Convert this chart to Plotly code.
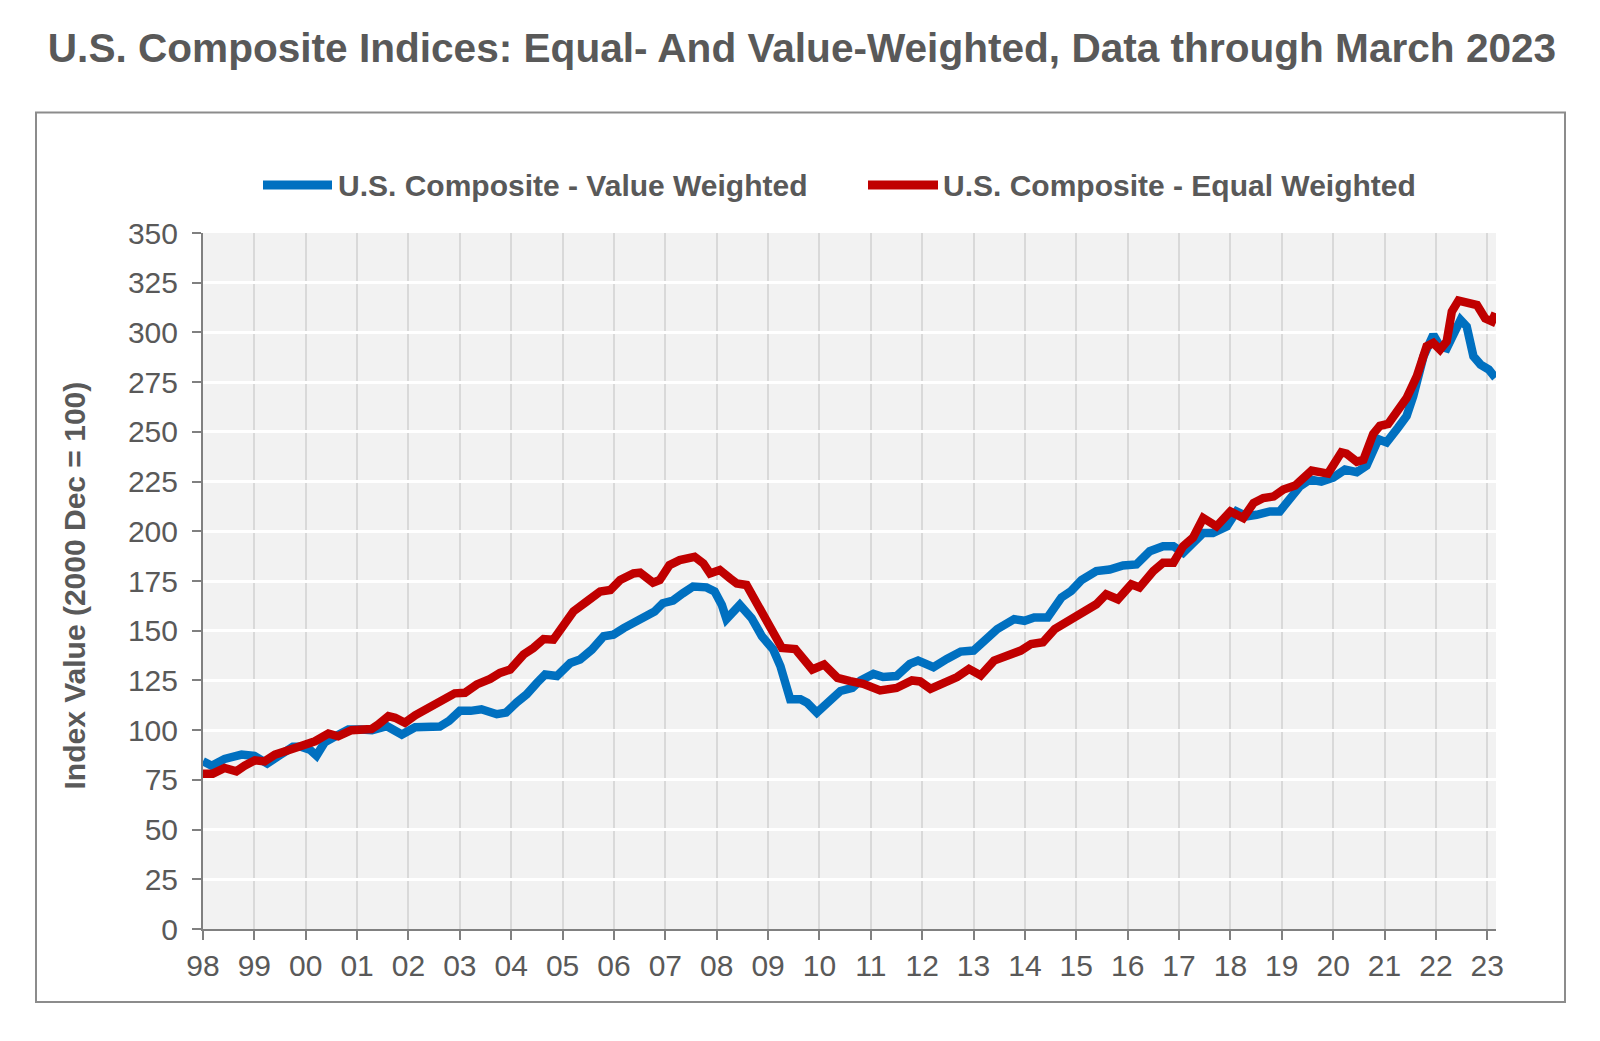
import plotly.graph_objects as go

# ---- data (decimal years, index values) ----
value_years = [1998.00, 1998.17, 1998.42, 1998.75, 1999.00, 1999.25, 1999.50, 1999.75, 1999.92,
               2000.08, 2000.21, 2000.37, 2000.58, 2000.83, 2001.08, 2001.29, 2001.58, 2001.87,
               2002.13, 2002.33, 2002.61, 2002.79, 2003.00, 2003.21, 2003.42, 2003.72, 2003.90,
               2004.10, 2004.30, 2004.50, 2004.66, 2004.89, 2005.15, 2005.34, 2005.57, 2005.80,
               2005.99, 2006.19, 2006.51, 2006.79, 2006.95, 2007.15, 2007.34, 2007.54, 2007.80,
               2007.96, 2008.10, 2008.19, 2008.45, 2008.68, 2008.88, 2009.10, 2009.24, 2009.43,
               2009.63, 2009.76, 2009.95, 2010.22, 2010.41, 2010.64, 2010.80, 2011.05, 2011.24,
               2011.50, 2011.76, 2011.92, 2012.22, 2012.48, 2012.75, 2013.00, 2013.20, 2013.46,
               2013.79, 2013.99, 2014.18, 2014.44, 2014.71, 2014.90, 2015.10, 2015.39, 2015.65,
               2015.91, 2016.17, 2016.43, 2016.69, 2016.89, 2017.08, 2017.27, 2017.47, 2017.66,
               2017.93, 2018.12, 2018.32, 2018.51, 2018.77, 2018.96, 2019.16, 2019.35, 2019.55,
               2019.77, 2020.00, 2020.23, 2020.46, 2020.65, 2020.88, 2021.04, 2021.26, 2021.43,
               2021.56, 2021.76, 2021.95, 2022.08, 2022.21, 2022.48, 2022.60, 2022.73, 2022.87,
               2023.03, 2023.16]
value_index = [84.3, 82.1, 85.5, 87.7, 87.0, 83.2, 87.5, 91.6, 91.6,
               90.2, 87.2, 93.9, 96.9, 100.3, 100.3, 100.0, 102.0, 97.8,
               101.5, 101.8, 101.8, 104.7, 109.7, 109.7, 110.5, 108.0, 108.8,
               113.8, 118.0, 123.8, 128.0, 127.2, 133.8, 135.5, 140.5, 147.2,
               148.0, 151.3, 156.3, 159.7, 163.8, 165.2, 168.8, 172.2, 171.8,
               169.7, 163.0, 155.8, 163.0, 156.3, 147.2, 140.5, 132.2, 115.5,
               115.5, 113.8, 108.8, 115.5, 119.7, 121.3, 125.0, 128.3, 126.7,
               127.2, 133.3, 135.0, 131.7, 135.8, 139.5, 140.0, 144.2, 150.8,
               155.8, 155.0, 156.7, 156.7, 166.7, 170.0, 175.5, 180.0, 180.8,
               182.8, 183.3, 190.0, 192.5, 192.5, 189.2, 194.2, 199.2, 199.2,
               202.5, 210.0, 207.5, 208.3, 210.0, 210.0, 216.5, 222.5, 226.0,
               225.0, 227.0, 231.0, 229.7, 233.0, 246.3, 244.7, 252.0, 258.0,
               268.0, 288.0, 298.8, 293.0, 292.0, 306.3, 303.0, 288.0, 283.8,
               281.3, 277.2]

equal_years = [1998.00, 1998.19, 1998.42, 1998.65, 1998.81, 1999.01, 1999.20, 1999.40, 1999.66,
               1999.92, 2000.18, 2000.44, 2000.63, 2000.89, 2001.09, 2001.28, 2001.41, 2001.61,
               2001.74, 2001.93, 2002.13, 2002.33, 2002.48, 2002.68, 2002.90, 2003.10, 2003.33,
               2003.59, 2003.78, 2003.98, 2004.24, 2004.43, 2004.63, 2004.82, 2005.02, 2005.21,
               2005.47, 2005.73, 2005.93, 2006.12, 2006.38, 2006.51, 2006.76, 2006.89, 2007.08,
               2007.28, 2007.57, 2007.74, 2007.87, 2008.06, 2008.26, 2008.39, 2008.58, 2008.78,
               2008.91, 2009.10, 2009.27, 2009.53, 2009.69, 2009.86, 2010.09, 2010.35, 2010.60,
               2010.85, 2011.18, 2011.50, 2011.80, 2011.96, 2012.16, 2012.42, 2012.68, 2012.91,
               2013.14, 2013.40, 2013.66, 2013.92, 2014.12, 2014.35, 2014.58, 2014.84, 2015.10,
               2015.39, 2015.58, 2015.81, 2016.07, 2016.23, 2016.50, 2016.69, 2016.89, 2017.08,
               2017.27, 2017.47, 2017.73, 2018.00, 2018.25, 2018.45, 2018.64, 2018.84, 2019.03,
               2019.26, 2019.58, 2019.77, 2019.90, 2020.16, 2020.26, 2020.46, 2020.59, 2020.78,
               2020.91, 2021.07, 2021.24, 2021.43, 2021.63, 2021.82, 2021.95, 2022.08, 2022.21,
               2022.31, 2022.44, 2022.70, 2022.80, 2022.96, 2023.09, 2023.16]
equal_index = [78.1, 78.1, 81.0, 79.3, 82.1, 84.8, 84.3, 87.7, 89.9,
               91.9, 94.4, 98.3, 96.9, 100.0, 100.3, 100.6, 102.8, 107.0,
               106.2, 103.7, 107.5, 110.5, 112.2, 115.2, 118.5, 118.8, 123.0,
               125.8, 128.8, 130.5, 138.0, 141.3, 145.8, 145.5, 153.0, 159.7,
               164.7, 169.7, 170.5, 175.5, 178.8, 179.2, 174.2, 175.5, 183.0,
               185.5, 187.2, 183.8, 178.8, 180.5, 176.3, 173.8, 173.0, 163.8,
               156.3, 149.7, 141.3, 140.8, 135.5, 130.5, 133.0, 126.3, 124.7,
               123.3, 120.0, 121.2, 125.0, 124.5, 120.8, 123.3, 126.7, 130.8,
               127.5, 135.0, 137.5, 140.0, 143.3, 144.2, 150.8, 155.0, 158.3,
               163.3, 168.3, 165.8, 173.3, 171.7, 180.0, 184.2, 184.2, 192.5,
               196.7, 206.7, 202.5, 210.0, 206.7, 214.2, 216.7, 217.5, 221.0,
               223.0, 230.5, 229.7, 229.0, 239.7, 239.0, 235.0, 236.0, 249.0,
               253.0, 254.0, 260.0, 267.0, 278.0, 293.0, 294.7, 291.3, 295.5,
               310.5, 316.0, 314.7, 313.8, 307.0, 305.5, 309.7]

tick_years = list(range(1998, 2024))
tick_labels = ["98", "99", "00", "01", "02", "03", "04", "05", "06", "07", "08", "09", "10",
               "11", "12", "13", "14", "15", "16", "17", "18", "19", "20", "21", "22", "23"]

series_names = ["U.S. Composite - Value Weighted", "U.S. Composite - Equal Weighted"]
series_colors = ["#0070C0", "#C00000"]

FONT = "Liberation Sans, Arial, Helvetica, sans-serif"
TXT = "#595959"

fig = go.Figure()
fig.add_trace(go.Scatter(x=value_years, y=value_index, mode="lines", name=series_names[0],
                         line=dict(color=series_colors[0], width=8.5), showlegend=False))
fig.add_trace(go.Scatter(x=equal_years, y=equal_index, mode="lines", name=series_names[1],
                         line=dict(color=series_colors[1], width=8.5), showlegend=False))

# plot-area geometry (pixels)
L, R, T, B = 203, 1496, 233, 929
W, H = R - L, B - T
px = lambda x: (x - L) / W
py = lambda y: (B - y) / H

shapes = [
    # outer frame
    dict(type="rect", xref="paper", yref="paper", x0=px(36), x1=px(1565), y0=py(1002), y1=py(112.5),
         line=dict(color="#8C8C8C", width=2), fillcolor="rgba(0,0,0,0)", layer="below"),
    # legend symbols
    dict(type="line", xref="paper", yref="paper", x0=px(263), x1=px(332), y0=py(185), y1=py(185),
         line=dict(color=series_colors[0], width=9)),
    dict(type="line", xref="paper", yref="paper", x0=px(868), x1=px(938), y0=py(185), y1=py(185),
         line=dict(color=series_colors[1], width=9)),
]

annotations = [
    dict(text=series_names[0], xref="paper", yref="paper", x=px(336), y=py(185), xanchor="left",
         yanchor="middle", showarrow=False, font=dict(family=FONT, size=30, color=TXT, weight="bold")),
    dict(text=series_names[1], xref="paper", yref="paper", x=px(941), y=py(185), xanchor="left",
         yanchor="middle", showarrow=False, font=dict(family=FONT, size=30, color=TXT, weight="bold")),
    dict(text="Index Value (2000 Dec = 100)", xref="paper", yref="paper", x=px(73.5), y=py(586),
         xanchor="center", yanchor="middle", textangle=-90, showarrow=False,
         font=dict(family=FONT, size=30, color=TXT, weight="bold")),
]

fig.update_layout(
    width=1600, height=1041,
    margin=dict(l=L, r=1600 - R, t=T, b=1041 - B),
    paper_bgcolor="white", plot_bgcolor="#F2F2F2",
    title=dict(text="U.S. Composite Indices: Equal- And Value-Weighted, Data through March 2023",
               x=(802 - L) / W, xref="paper", xanchor="center", y=1 - 48 / 1041, yanchor="middle",
               yref="container",
               font=dict(family=FONT, size=40.6, color=TXT, weight="bold")),
    font=dict(family=FONT, color=TXT),
    shapes=shapes, annotations=annotations,
    showlegend=False,
)

fig.update_xaxes(range=[1998, 2023.17], tickmode="array", tickvals=tick_years, ticktext=tick_labels,
                 showgrid=True, gridcolor="#D9D9D9", gridwidth=2,
                 showline=True, linecolor="#808080", linewidth=2,
                 ticks="outside", ticklen=9, tickwidth=2, tickcolor="#808080",
                 tickfont=dict(family=FONT, size=30, color=TXT), zeroline=False)
fig.update_yaxes(range=[0, 350], tickmode="linear", tick0=0, dtick=25,
                 showgrid=True, gridcolor="#FFFFFF", gridwidth=3,
                 showline=True, linecolor="#808080", linewidth=2,
                 ticks="outside", ticklen=9, tickwidth=2, tickcolor="#808080",
                 ticklabelstandoff=8,
                 tickfont=dict(family=FONT, size=30, color=TXT), zeroline=False)

fig.write_html("out.html")
